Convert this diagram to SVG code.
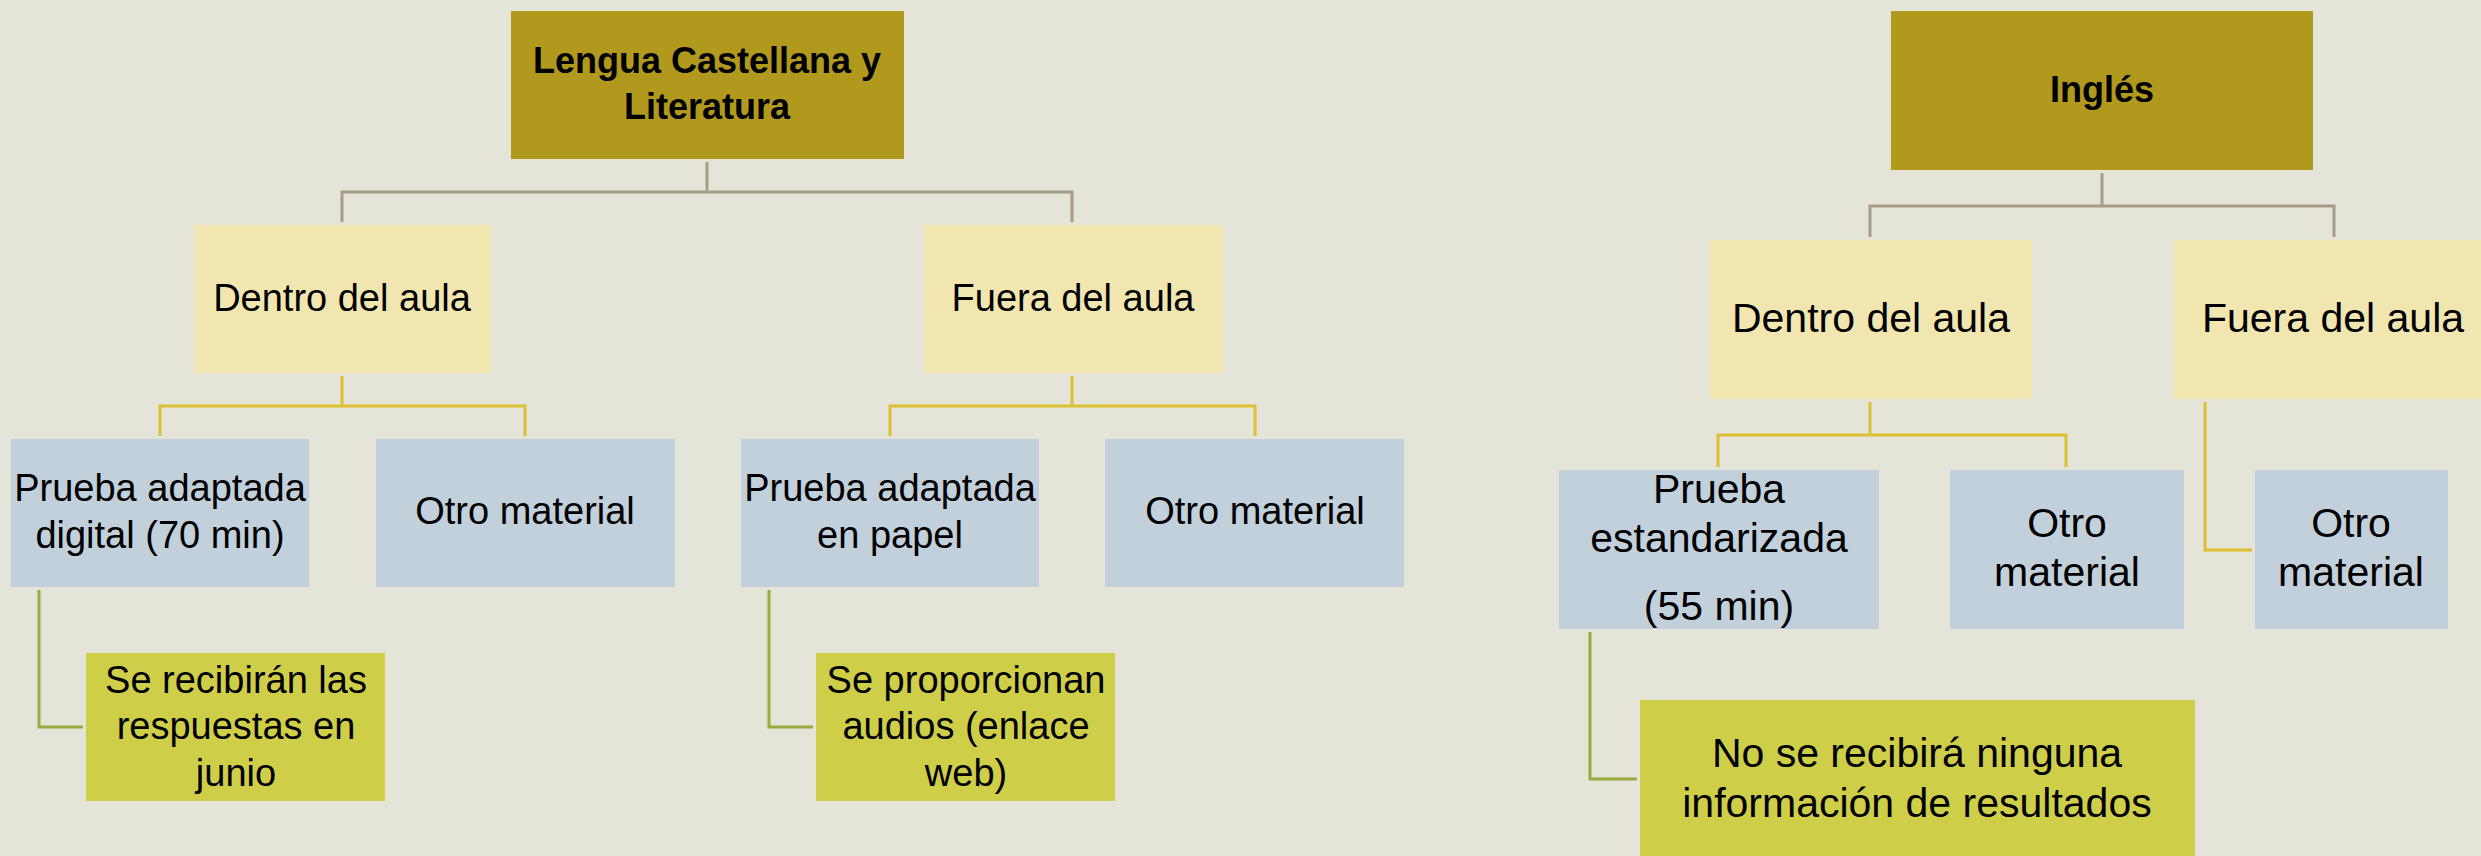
<svg xmlns="http://www.w3.org/2000/svg" width="2481" height="856" viewBox="0 0 2481 856">
<style>
.top{fill:#b1991d}
.mid{fill:#f2e6b0}
.blue{fill:#c1d0da}
.grn{fill:#cfce49}
text{font-family:"Liberation Sans",Arial,sans-serif;fill:#000;text-anchor:middle}
.b{font-weight:bold;font-size:36px}
.l{font-size:38px}
.r{font-size:41px}
.c{fill:none;stroke-width:3}
.gray{stroke:#a89c88}
.gold{stroke:#dcc030}
.olive{stroke:#9aaa3c}
</style>
<rect width="2481" height="856" fill="#e4e5d8"/>
<g id="connectors">
<path class="c gray" d="M707,162V192M342,222V192H1072V222"/>
<path class="c gray" d="M2102,173V206M1870,237V206H2334V237"/>
<path class="c gold" d="M342,376V406M160,436V406H525V436"/>
<path class="c gold" d="M1072,376V406M890,436V406H1255V436"/>
<path class="c gold" d="M1870,402V435M1718,467V435H2066V467"/>
<path class="c gold" d="M2205,402V550H2252"/>
<path class="c olive" d="M39,590V727H83"/>
<path class="c olive" d="M769,590V727H813"/>
<path class="c olive" d="M1590,632V779H1637"/>
</g>
<g id="lengua"><rect class="top" x="511" y="11" width="393" height="148"/><text class="b" x="707" y="73">Lengua Castellana y</text><text class="b" x="707" y="119">Literatura</text></g>
<g id="l-dentro"><rect class="mid" x="194" y="225" width="297" height="148"/><text class="l" x="342" y="311">Dentro del aula</text></g>
<g id="l-fuera"><rect class="mid" x="924" y="225" width="299" height="148"/><text class="l" x="1073" y="311">Fuera del aula</text></g>
<g id="l-prueba-digital"><rect class="blue" x="11" y="439" width="298" height="148"/><text class="l" x="160" y="501">Prueba adaptada</text><text class="l" x="160" y="548">digital (70 min)</text></g>
<g id="l-otro1"><rect class="blue" x="376" y="439" width="299" height="148"/><text class="l" x="525" y="524">Otro material</text></g>
<g id="l-prueba-papel"><rect class="blue" x="741" y="439" width="298" height="148"/><text class="l" x="890" y="501">Prueba adaptada</text><text class="l" x="890" y="548">en papel</text></g>
<g id="l-otro2"><rect class="blue" x="1105" y="439" width="299" height="148"/><text class="l" x="1255" y="524">Otro material</text></g>
<g id="l-respuestas"><rect class="grn" x="86" y="653" width="299" height="148"/><text class="l" x="236" y="693">Se recibirán las</text><text class="l" x="236" y="739">respuestas en</text><text class="l" x="236" y="786">junio</text></g>
<g id="l-audios"><rect class="grn" x="816" y="653" width="299" height="148"/><text class="l" x="966" y="693">Se proporcionan</text><text class="l" x="966" y="739">audios (enlace</text><text class="l" x="966" y="786">web)</text></g>
<g id="ingles"><rect class="top" x="1891" y="11" width="422" height="159"/><text class="b" x="2102" y="102">Inglés</text></g>
<g id="i-dentro"><rect class="mid" x="1710" y="240" width="322" height="159"/><text class="r" x="1871" y="332">Dentro del aula</text></g>
<g id="i-fuera"><rect class="mid" x="2173" y="240" width="308" height="159"/><text class="r" x="2333" y="332">Fuera del aula</text></g>
<g id="i-prueba"><rect class="blue" x="1559" y="470" width="320" height="159"/><text class="r" x="1719" y="503">Prueba</text><text class="r" x="1719" y="552">estandarizada</text><text class="r" x="1719" y="620">(55 min)</text></g>
<g id="i-otro1"><rect class="blue" x="1950" y="470" width="234" height="159"/><text class="r" x="2067" y="537">Otro</text><text class="r" x="2067" y="586">material</text></g>
<g id="i-otro2"><rect class="blue" x="2255" y="470" width="193" height="159"/><text class="r" x="2351" y="537">Otro</text><text class="r" x="2351" y="586">material</text></g>
<g id="i-resultados"><rect class="grn" x="1640" y="700" width="555" height="156"/><text class="r" x="1917" y="767">No se recibirá ninguna</text><text class="r" x="1917" y="817">información de resultados</text></g>
</svg>
